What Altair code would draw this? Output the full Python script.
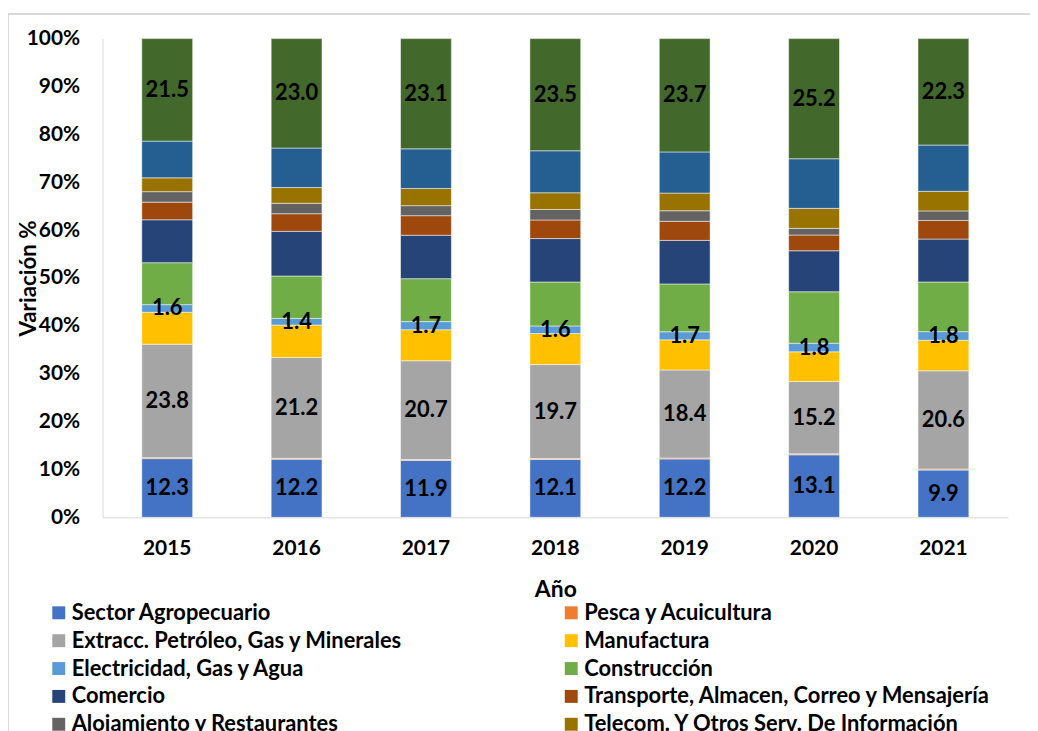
import altair as alt
import pandas as pd

years = ["2015", "2016", "2017", "2018", "2019", "2020", "2021"]

sectors = [
    "Sector Agropecuario",
    "Pesca y Acuicultura",
    "Extracc. Petróleo, Gas y Minerales",
    "Manufactura",
    "Electricidad, Gas y Agua",
    "Construcción",
    "Comercio",
    "Transporte, Almacen, Correo y Mensajería",
    "Alojamiento y Restaurantes",
    "Telecom. Y Otros Serv. De Información",
    "Servicios Financieros",
    "Otros Servicios",
]

colors = [
    "#4472C4", "#ED7D31", "#A5A5A5", "#FFC000", "#5B9BD5", "#70AD47",
    "#264478", "#9E480E", "#636363", "#997300", "#255E91", "#43682B",
]

agro = [12.3, 12.2, 11.9, 12.1, 12.2, 13.1, 9.9]
pesca = [0.2, 0.2, 0.2, 0.2, 0.2, 0.2, 0.2]
extracc = [23.8, 21.2, 20.7, 19.7, 18.4, 15.2, 20.6]
manuf = [6.7, 6.8, 6.5, 6.5, 6.3, 6.2, 6.4]
elec = [1.6, 1.4, 1.7, 1.6, 1.7, 1.8, 1.8]
constr = [8.8, 8.9, 9.0, 9.2, 10.0, 10.8, 10.4]
comercio = [9.0, 9.4, 9.1, 9.1, 9.1, 8.6, 9.0]
transp = [3.7, 3.7, 4.1, 3.9, 4.0, 3.3, 3.9]
aloj = [2.2, 2.2, 2.1, 2.2, 2.2, 1.4, 2.0]
telecom = [2.9, 3.3, 3.6, 3.5, 3.7, 4.2, 4.1]
finanzas = [7.7, 8.3, 8.3, 8.8, 8.6, 10.4, 9.7]
otros = [21.5, 23.0, 23.1, 23.5, 23.7, 25.2, 22.3]

series = [agro, pesca, extracc, manuf, elec, constr, comercio, transp,
          aloj, telecom, finanzas, otros]
labeled = ["Sector Agropecuario", "Extracc. Petróleo, Gas y Minerales",
           "Electricidad, Gas y Agua", "Otros Servicios"]

# legend fills column by column: put even-indexed sectors in column 1,
# odd-indexed in column 2, so rows read like the reference
legend_order = sectors[0::2] + sectors[1::2]
legend_colors = colors[0::2] + colors[1::2]

rows = []
for i, (name, vals) in enumerate(zip(sectors, series)):
    for y, v in zip(years, vals):
        rows.append({"year": y, "sector": name, "idx": i, "value": v,
                     "lab": 1 if name in labeled else 0})
df = pd.DataFrame(rows)

FONT = "Lato"

base = alt.Chart(df).transform_stack(
    stack="value", groupby=["year"], as_=["v0", "v1"],
    sort=[alt.SortField("idx", order="ascending")], offset="normalize"
)

xenc = alt.X("year:N", sort=years, title="Año",
             scale=alt.Scale(paddingInner=0.607, paddingOuter=0.3035),
             axis=alt.Axis(labelAngle=0, labelFont=FONT, labelFontSize=21,
                           labelFontWeight="bold", labelColor="black",
                           labelPadding=20, ticks=False, domainColor="#d9d9d9",
                           titleFont=FONT, titleFontSize=23, titleFontWeight="bold",
                           titleColor="black", titlePadding=21))

bars = base.mark_bar(stroke="white", strokeWidth=0.5).encode(
    x=xenc,
    y=alt.Y("v0:Q", scale=alt.Scale(domain=[0, 1]),
            title="Variación %",
            axis=alt.Axis(format=".0%", values=[i / 10 for i in range(11)],
                          labelFont=FONT, labelFontSize=21, labelFontWeight="bold",
                          labelColor="black", labelPadding=23, ticks=False,
                          grid=False, domainColor="#d9d9d9",
                          titleFont=FONT, titleFontSize=22.5, titleFontWeight="bold",
                          titleColor="black", titleX=-74, titleBaseline="middle")),
    y2="v1:Q",
    color=alt.Color("sector:N",
                    scale=alt.Scale(domain=legend_order, range=legend_colors),
                    legend=alt.Legend(orient="none", legendX=-55, legendY=566,
                                      columns=2, columnPadding=158, rowPadding=6,
                                      symbolType="square", symbolSize=169,
                                      symbolStrokeWidth=0, labelFont=FONT,
                                      labelFontSize=22, labelFontWeight="bold",
                                      labelColor="black", labelOffset=2,
                                      labelLimit=600, title=None)),
)

texts = base.transform_filter("datum.lab == 1").transform_calculate(
    mid="(datum.v0 + datum.v1) / 2"
).mark_text(font=FONT, fontSize=22, fontWeight="bold", color="black",
            baseline="middle", align="center").encode(
    x=alt.X("year:N", sort=years),
    y=alt.Y("mid:Q"),
    text=alt.Text("value:Q", format=".1f"),
)

frame_top = alt.Chart(df).mark_rule(color="#d9d9d9", strokeWidth=1).encode(
    x=alt.value(-95), x2=alt.value(935), y=alt.value(-25))
frame_left = alt.Chart(df).mark_rule(color="#d9d9d9", strokeWidth=1).encode(
    x=alt.value(-95), y=alt.value(-25), y2=alt.value(720))

chart = alt.layer(frame_top, frame_left, bars, texts).properties(
    width=910, height=481,
    autosize=alt.AutoSizeParams(type="none"),
    padding={"left": 95, "top": 29, "right": 22, "bottom": 213},
).configure_view(stroke=None)

chart.save("out.html", embed_options={"renderer": "svg", "actions": False})
